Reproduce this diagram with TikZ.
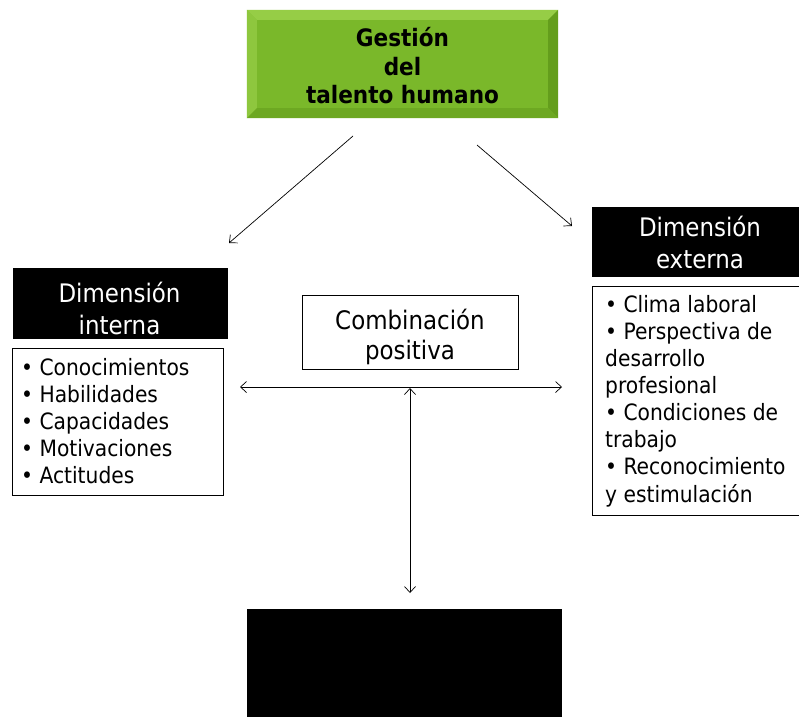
\documentclass[tikz,border=0pt]{standalone}
\usepackage{fontspec}
\setmainfont{DejaVu Sans Condensed}
\usetikzlibrary{arrows.meta,calc}
\definecolor{gmid}{RGB}{122,184,42}
\definecolor{glight}{RGB}{150,205,70}
\definecolor{gdark}{RGB}{100,158,28}
\tikzset{
  blackbox/.style={fill=black, inner sep=0pt},
  titletext/.style={text=white, align=center, inner sep=0pt,
    font=\fontsize{25.5}{32}\selectfont},
  listbox/.style={draw=black, line width=0.8pt, fill=white, inner sep=0pt},
  listtext/.style={align=left, inner sep=0pt, anchor=north west,
    font=\fontsize{22.5}{27.1}\selectfont},
  combbox/.style={draw=black, line width=0.8pt, inner sep=0pt},
  combtext/.style={align=center, inner sep=0pt, font=\fontsize{25.5}{30}\selectfont},
  arr/.style={-{Straight Barb[length=6pt,width=11pt]}, line width=0.7pt},
  darr/.style={{Straight Barb[length=6pt,width=11pt]}-{Straight Barb[length=6pt,width=11pt]}, line width=0.7pt}
}
\begin{document}
\begin{tikzpicture}[x=1pt,y=-1pt]
\useasboundingbox (0,0) rectangle (799,716);
\clip (0,0) rectangle (799,716);
\fill[white] (0,0) rectangle (799,716);

% green title box
\node[fill=gmid, minimum width=311pt, minimum height=108pt, inner sep=0pt] (g) at (402.5,64) {};
\fill[glight] (g.north west) -- (g.north east) -- ([shift={(-10,10)}]g.north east) -- ([shift={(10,10)}]g.north west) -- cycle;
\fill[glight!70!gmid] (g.north west) -- ([shift={(10,10)}]g.north west) -- ([shift={(10,-10)}]g.south west) -- (g.south west) -- cycle;
\fill[gdark] (g.north east) -- ([shift={(-10,10)}]g.north east) -- ([shift={(-10,-10)}]g.south east) -- (g.south east) -- cycle;
\fill[gdark!60!gmid] (g.south west) -- ([shift={(10,-10)}]g.south west) -- ([shift={(-10,-10)}]g.south east) -- (g.south east) -- cycle;
\node[align=center, font=\bfseries\fontsize{24}{28.5}\selectfont, inner sep=0pt] (gt) at (402.5,66) {Gestión\\del\\talento humano};

% left side
\node[blackbox, minimum width=215pt, minimum height=71pt] (li) at (120.5,303.5) {};
\node[titletext] (lit) at (119.5,308) {Dimensión\\interna};
\node[listbox, minimum width=211pt, minimum height=147pt] (lb) at (117.5,421.5) {};
\node[listtext] (lt) at (21,358) {• Conocimientos\\• Habilidades\\• Capacidades\\• Motivaciones\\• Actitudes};

% right side
\node[blackbox, minimum width=216pt, minimum height=70pt] (re) at (700,242) {};
\node[titletext] (ret) at (700,242) {Dimensión\\externa};
\node[listbox, minimum width=216pt, minimum height=229pt] (rb) at (700,400.5) {};
\node[listtext] (rt) at (605,295) {• Clima laboral\\• Perspectiva de\\desarrollo\\profesional\\• Condiciones de\\trabajo\\• Reconocimiento\\y estimulación};

% center
\node[combbox, minimum width=216pt, minimum height=74pt] (cp) at (410,332) {};
\node[combtext] (cpt) at (410,337) {Combinación\\positiva};

% bottom black box
\node[fill=black, minimum width=315pt, minimum height=115pt, inner sep=0pt] (bb) at (404.5,666.5) {};

% connectors
\coordinate (a1s) at (353,136);
\coordinate (a1e) at (229,243);
\coordinate (a2s) at (477,145);
\coordinate (a2e) at (572,226);
\coordinate (hl) at (240,387);
\coordinate (hr) at (562,387);
\coordinate (vt) at (410,388);
\coordinate (vb) at (410,593);
\draw[arr] (a1s) -- (a1e);
\draw[arr] (a2s) -- (a2e);
\draw[darr] (hl) -- (hr);
\draw[darr] (vt) -- (vb);
\end{tikzpicture}
\end{document}
